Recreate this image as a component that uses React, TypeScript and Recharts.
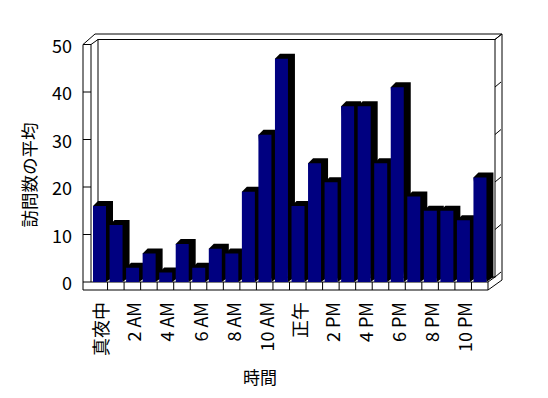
import React from 'react';
import { BarChart, Bar, XAxis, YAxis, CartesianGrid, Customized } from 'recharts';

const categories = ['真夜中', '1 AM', '2 AM', '3 AM', '4 AM', '5 AM', '6 AM', '7 AM', '8 AM', '9 AM', '10 AM', '11 AM',
  '正午', '1 PM', '2 PM', '3 PM', '4 PM', '5 PM', '6 PM', '7 PM', '8 PM', '9 PM', '10 PM', '11 PM'];
const visits = [16, 12, 3, 6, 2, 8, 3, 7, 6, 19, 31, 47, 16, 25, 21, 37, 37, 25, 41, 18, 15, 15, 13, 22];
const yTicks = [0, 10, 20, 30, 40, 50];
const xTitle = '時間';
const yTitle = '訪問数の平均';

const data = categories.map((c, i) => ({ hour: c, visits: visits[i] }));

const W = 548;
const H = 398;
const L = 91;
const R = 488;
const T = 44.5;
const B = 282;
const DX = 7;
const DY = -5;
const FONT = '"Noto Sans CJK JP", "Noto Sans", sans-serif';
const NAVY = '#000080';

const Bar3D = (p: any) => {
  const { x, y, width, height } = p;
  if (x == null || y == null) return null;
  const b = y + height;
  const pts = [
    [x, y], [x + 5, y - 5], [x + width + DX, y - 5], [x + width + DX, b - 5], [x + width, b],
  ].map((q) => q.join(',')).join(' ');
  return (
    <g>
      <polygon points={pts} fill="#000" />
      <rect x={x} y={y} width={width} height={height} fill={NAVY} />
    </g>
  );
};

const YTick = (p: any) => {
  const { x, y, payload } = p;
  return (
    <g>
      <line x1={x - 8} x2={x} y1={y} y2={y} stroke="#000" />
      <text x={x - 19} y={y} textAnchor="end" dominantBaseline="central" fontSize={18} fontFamily={FONT} fill="#000">
        {payload.value}
      </text>
    </g>
  );
};

const XTick = (p: any) => {
  const { x, y, payload, index } = p;
  if (index % 2 !== 0) return null;
  const tx = x + 1;
  const ty = y + 20;
  return (
    <text x={tx} y={ty} textAnchor="end" dominantBaseline="central" fontSize={18} fontFamily={FONT} fill="#000"
      transform={`rotate(-90, ${tx}, ${ty})`}>
      {payload.value}
    </text>
  );
};

const GridLine = (p: any) => {
  const { x1, x2, y1 } = p;
  const y = y1 + DY;
  return (
    <g key={`g-${y1}`}>
      <line x1={x1 + DX} x2={x2 + DX} y1={y} y2={y} stroke="#000" />
      <line x1={x2 + DX} x2={x2 + DX + 6} y1={y} y2={y - 5} stroke="#000" />
    </g>
  );
};

const Frame = () => {
  const n = categories.length;
  const band = (R - L) / n;
  const dividers = [];
  for (let k = 1; k < n; k++) {
    const xx = L + k * band;
    dividers.push(<line key={k} x1={xx} x2={xx} y1={B} y2={B + 8} />);
  }
  return (
    <g stroke="#000" fill="none" strokeWidth={1}>
      <rect x={L + DX} y={T + DY} width={R - L} height={B - T} fill="#fff" />
      <line x1={95} x2={R + 14} y1={34} y2={34} />
      <line x1={R + DX} x2={R + 14} y1={T + DY} y2={34} />
      <line x1={R + 14} x2={R + 14} y1={34} y2={B - 2} />
      <line x1={83} x2={83} y1={T} y2={B + 8} />
      <line x1={L} x2={L} y1={T} y2={B} />
      <line x1={83} x2={L} y1={T} y2={T} />
      <line x1={83} x2={95} y1={T} y2={34} />
      <line x1={L} x2={L + DX} y1={T} y2={T + DY} />
      <line x1={L} x2={R} y1={B} y2={B} />
      <line x1={83} x2={R} y1={B + 8} y2={B + 8} />
      <line x1={R} x2={R} y1={B} y2={B + 8} />
      <line x1={R} x2={R + DX} y1={B} y2={B + DY} />
      <line x1={R} x2={R + 14} y1={B + 8} y2={B - 2} />
      {dividers}
    </g>
  );
};

const Titles = () => (
  <g fontFamily={FONT} fill="#000">
    <text x={260} y={376} textAnchor="middle" dominantBaseline="central" fontSize={17}>{xTitle}</text>
    <text x={28} y={175} textAnchor="middle" dominantBaseline="central" fontSize={17.5}
      transform="rotate(-90, 28, 175)">{yTitle}</text>
  </g>
);

export default function App() {
  return (
    <div style={{ position: 'absolute', left: 0, top: 0, width: W, height: H, background: '#fff' }}>
      <BarChart width={W} height={H} data={data}
        margin={{ top: T, right: W - R, bottom: H - B - 60, left: L - 30 }}
        barSize={13}>
        <Customized component={Frame} />
        <CartesianGrid vertical={false} horizontal={GridLine} stroke="#000" />
        <XAxis dataKey="hour" interval={0} height={60} axisLine={false} tickLine={false} tickSize={0} tickMargin={0}
          tick={XTick} />
        <YAxis domain={[0, 50]} ticks={yTicks} width={30} axisLine={false} tickLine={false} tickSize={0} tickMargin={0}
          tick={YTick} />
        <Bar dataKey="visits" isAnimationActive={false} shape={Bar3D} />
        <Customized component={Titles} />
      </BarChart>
    </div>
  );
}
